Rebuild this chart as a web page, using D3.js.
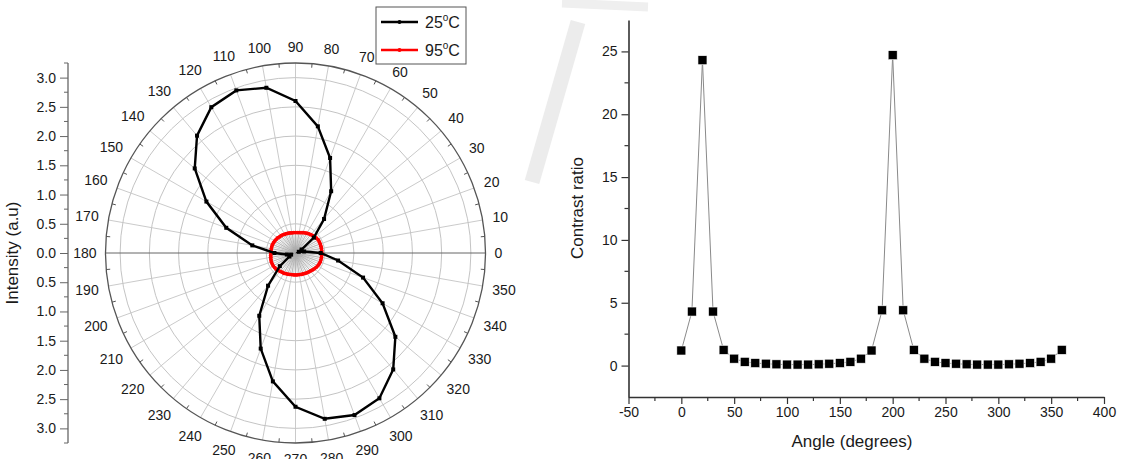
<!DOCTYPE html>
<html>
<head>
<meta charset="utf-8">
<script src="https://cdn.jsdelivr.net/npm/d3@7"></script>
<style>
  body { margin: 0; background: #fff; }
  svg text { font-family: "Liberation Sans", Arial, sans-serif; fill: #1a1a1a; }
</style>
</head>
<body>
<svg id="chart" width="1124" height="459"></svg>
<script>

// ---- polar chart data (intensity, a.u.) ----
var polar_angles_25 = [0,10,20,30,40,50,60,70,80,90,100,110,120,130,140,150,160,170,
                       180,190,200,210,220,230,240,250,260,270,280,290,300,310,320,330,340,350];
var intensity_25 = [0.43,0.15,0.06,0.12,0.41,0.76,1.22,1.73,2.20,2.60,2.87,2.96,2.88,2.62,2.25,1.76,1.26,0.75,
                    0.36,0.15,0.08,0.12,0.35,0.73,1.24,1.74,2.23,2.63,2.88,2.95,2.87,2.60,2.23,1.72,1.23,0.74];

var polar_angles_95 = [0,5,10,15,20,25,30,35,40,45,50,55,60,65,70,75,80,85,90,95,100,105,110,115,
                       120,125,130,135,140,145,150,155,160,165,170,175,180,185,190,195,200,205,210,215,
                       220,225,230,235,240,245,250,255,260,265,270,275,280,285,290,295,300,305,310,315,
                       320,325,330,335,340,345,350,355];
var intensity_95 = [0.45,0.45,0.45,0.45,0.45,0.45,0.45,0.44,0.43,0.42,0.41,0.40,0.39,0.38,0.37,0.36,0.355,0.35,
                    0.35,0.35,0.35,0.355,0.36,0.365,0.37,0.38,0.385,0.39,0.40,0.405,0.41,0.415,0.42,0.42,
                    0.42,0.42,0.42,0.425,0.43,0.435,0.44,0.44,0.44,0.435,0.43,0.42,0.41,0.40,0.40,0.39,
                    0.385,0.38,0.375,0.375,0.375,0.375,0.375,0.38,0.38,0.385,0.39,0.395,0.40,0.41,0.42,
                    0.43,0.44,0.445,0.45,0.45,0.45,0.45];

var polar_ring_values = [0.5,1.0,1.5,2.0,2.5,3.0];
var polar_label_angles = [0,10,20,30,40,50,60,70,80,90,100,110,120,130,140,150,160,170,
                          180,190,200,210,220,230,240,250,260,270,280,290,300,310,320,330,340,350];
var intensity_ticks = [-3,-2.5,-2,-1.5,-1,-0.5,0,0.5,1,1.5,2,2.5,3];

// ---- contrast ratio data ----
var cr_angles = [0,10,20,30,40,50,60,70,80,90,100,110,120,130,140,150,160,170,180,
                 190,200,210,220,230,240,250,260,270,280,290,300,310,320,330,340,350,360];
var cr_values = [1.2,4.3,24.3,4.3,1.25,0.55,0.3,0.2,0.15,0.1,0.08,0.08,0.08,0.1,0.15,0.2,0.3,0.55,1.2,
                 4.4,24.7,4.4,1.25,0.55,0.3,0.2,0.15,0.1,0.08,0.08,0.08,0.1,0.15,0.2,0.3,0.55,1.25];
var cr_xticks = [-50,0,50,100,150,200,250,300,350,400];
var cr_yticks = [0,5,10,15,20,25];

var svg = d3.select("#chart");

// faint watermark strokes seen in the source image
svg.append("path").attr("d","M578,22 L532,182").attr("stroke","#ececec").attr("stroke-width",15).attr("fill","none");
svg.append("path").attr("d","M562,3 L648,7").attr("stroke","#efefef").attr("stroke-width",9).attr("fill","none");

function draw_polar(){
	var cx = 295.5, cy = 253, R = 190;
	var rMax = 3.25;
	var r = d3.scaleLinear().domain([0, rMax]).range([0, R]);
	var g = svg.append("g").attr("transform", "translate(" + cx + "," + cy + ")");
	var rad = function(deg){ return deg * Math.PI / 180; };

	// rings
	g.selectAll(".ring").data(polar_ring_values).enter()
		.append("circle")
		.attr("r", function(d){ return r(d); })
		.attr("fill", "none").attr("stroke", "#c4c4c4").attr("stroke-width", 1);

	// spokes every 10 deg
	g.selectAll(".spoke").data(polar_label_angles).enter()
		.append("line")
		.attr("x1", 0).attr("y1", 0)
		.attr("x2", function(d){ return r(rMax) * Math.cos(rad(d)); })
		.attr("y2", function(d){ return -r(rMax) * Math.sin(rad(d)); })
		.attr("stroke", function(d){ return (d % 180 === 0) ? "#666" : "#c4c4c4"; })
		.attr("stroke-width", function(d){ return (d % 180 === 0) ? 1 : 0.9; });

	// drop lines from centre to 95C points
	var d95 = polar_angles_95.map(function(a,i){ return [a, intensity_95[i]]; });
	g.selectAll(".drop").data(d95).enter()
		.append("line")
		.attr("x1", 0).attr("y1", 0)
		.attr("x2", function(d){ return r(d[1]) * Math.cos(rad(d[0])); })
		.attr("y2", function(d){ return -r(d[1]) * Math.sin(rad(d[0])); })
		.attr("stroke", "#aaa").attr("stroke-width", 0.6);

	// outer circle + minor ticks every 5 deg
	g.append("circle").attr("r", R).attr("fill", "none").attr("stroke", "#555").attr("stroke-width", 1.3);
	var minor = polar_angles_95.filter(function(a){ return a % 10 !== 0; });
	g.selectAll(".mtick").data(minor).enter()
		.append("line")
		.attr("x1", function(d){ return R * Math.cos(rad(d)); })
		.attr("y1", function(d){ return -R * Math.sin(rad(d)); })
		.attr("x2", function(d){ return (R - 4) * Math.cos(rad(d)); })
		.attr("y2", function(d){ return -(R - 4) * Math.sin(rad(d)); })
		.attr("stroke", "#555").attr("stroke-width", 1);

	// angle labels
	var labelDist = function(d){
		var hw = String(d).length * 3.9;
		return R + 9 + hw * Math.abs(Math.cos(rad(d))) + 7 * Math.abs(Math.sin(rad(d)));
	};
	g.selectAll(".alab").data(polar_label_angles).enter()
		.append("text")
		.attr("x", function(d){ return labelDist(d) * Math.cos(rad(d)); })
		.attr("y", function(d){ return -labelDist(d) * Math.sin(rad(d)); })
		.attr("text-anchor", "middle").attr("dy", "0.35em")
		.attr("font-size", 14)
		.text(function(d){ return d; });

	// curves
	var d25 = polar_angles_25.map(function(a,i){ return [a, intensity_25[i]]; });
	var lr = d3.lineRadial()
		.angle(function(d){ return rad(90 - d[0]); })
		.radius(function(d){ return r(d[1]); })
		.curve(d3.curveLinearClosed);

	g.append("path").datum(d95).attr("d", lr)
		.attr("fill", "none").attr("stroke", "#ff0000").attr("stroke-width", 2.8);
	g.selectAll(".p95").data(d95).enter()
		.append("circle")
		.attr("cx", function(d){ return r(d[1]) * Math.cos(rad(d[0])); })
		.attr("cy", function(d){ return -r(d[1]) * Math.sin(rad(d[0])); })
		.attr("r", 1.9).attr("fill", "#ff0000");

	g.append("path").datum(d25).attr("d", lr)
		.attr("fill", "none").attr("stroke", "#000").attr("stroke-width", 2.4);
	g.selectAll(".p25").data(d25).enter()
		.append("rect")
		.attr("x", function(d){ return r(d[1]) * Math.cos(rad(d[0])) - 2; })
		.attr("y", function(d){ return -r(d[1]) * Math.sin(rad(d[0])) - 2; })
		.attr("width", 4).attr("height", 4).attr("fill", "#000");

	// left intensity axis
	var yI = d3.scaleLinear().domain([-rMax, rMax]).range([cy + R, cy - R]);
	var ax = svg.append("g").attr("transform", "translate(68,0)");
	ax.call(d3.axisLeft(yI).tickValues(intensity_ticks).tickSize(8).tickPadding(4)
		.tickFormat(function(d){ return Math.abs(d).toFixed(1); }));
	ax.call(function(s){
		s.select(".domain").attr("d", "M0," + (cy - R) + "V" + (cy + R)).attr("stroke", "#666").attr("stroke-width", 1.3);
		s.selectAll(".tick line").attr("stroke", "#666");
		s.selectAll(".tick text").attr("font-size", 14).attr("fill", "#1a1a1a")
			.attr("font-family", "Liberation Sans, Arial, sans-serif");
	});
	var minorI = [-3.25,-2.75,-2.25,-1.75,-1.25,-0.75,-0.25,0.25,0.75,1.25,1.75,2.25,2.75,3.25];
	ax.selectAll(".mi").data(minorI).enter()
		.append("line").attr("x1", -4).attr("x2", 0)
		.attr("y1", function(d){ return yI(d); }).attr("y2", function(d){ return yI(d); })
		.attr("stroke", "#666");

	svg.append("text")
		.attr("transform", "translate(18," + cy + ") rotate(-90)")
		.attr("text-anchor", "middle").attr("font-size", 17)
		.text("Intensity (a.u)");

	// legend
	var lg = svg.append("g");
	lg.append("rect").attr("x", 376).attr("y", 7).attr("width", 90).attr("height", 57)
		.attr("fill", "#fff").attr("stroke", "#555").attr("stroke-width", 1);
	var leg = [["25", "#000"], ["95", "#ff0000"]];
	leg.forEach(function(l, i){
		var yy = 22 + i * 28;
		lg.append("line").attr("x1", 381).attr("x2", 418).attr("y1", yy).attr("y2", yy)
			.attr("stroke", l[1]).attr("stroke-width", 2.6);
		lg.append("circle").attr("cx", 399.5).attr("cy", yy).attr("r", 2).attr("fill", l[1]);
		var t = lg.append("text").attr("x", 425).attr("y", yy + 6).attr("font-size", 16);
		t.append("tspan").text(l[0]);
		t.append("tspan").attr("font-size", 10).attr("dy", -7).text("o");
		t.append("tspan").attr("dy", 7).text("C");
	});
}

function draw_contrast(){
	var x = d3.scaleLinear().domain([-50, 400]).range([628.5, 1104]);
	var y = d3.scaleLinear().domain([-2.5, 27.5]).range([397, 20]);

	var xa = svg.append("g").attr("transform", "translate(0,397)")
		.call(d3.axisBottom(x).tickValues(cr_xticks).tickSize(7).tickPadding(3).tickSizeOuter(0)
			.tickFormat(function(d){ return String(d); }));
	var ya = svg.append("g").attr("transform", "translate(628.5,0)")
		.call(d3.axisLeft(y).tickValues(cr_yticks).tickSize(7).tickPadding(4).tickSizeOuter(0));
	[xa, ya].forEach(function(a){
		a.select(".domain").attr("stroke", "#333").attr("stroke-width", 1.6);
		a.selectAll(".tick line").attr("stroke", "#333").attr("stroke-width", 1.2);
		a.selectAll(".tick text").attr("font-size", 14).attr("fill", "#1a1a1a")
			.attr("font-family", "Liberation Sans, Arial, sans-serif");
	});
	var xminor = [-25,25,75,125,175,225,275,325,375];
	svg.selectAll(".xm").data(xminor).enter().append("line")
		.attr("x1", function(d){ return x(d); }).attr("x2", function(d){ return x(d); })
		.attr("y1", 397).attr("y2", 401).attr("stroke", "#333").attr("stroke-width", 1.2);
	var yminor = [2.5,7.5,12.5,17.5,22.5];
	svg.selectAll(".ym").data(yminor).enter().append("line")
		.attr("y1", function(d){ return y(d); }).attr("y2", function(d){ return y(d); })
		.attr("x1", 628.5).attr("x2", 624.5).attr("stroke", "#333").attr("stroke-width", 1.2);

	var data = cr_angles.map(function(a,i){ return [a, cr_values[i]]; });
	svg.append("path").datum(data)
		.attr("fill", "none").attr("stroke", "#8a8a8a").attr("stroke-width", 1)
		.attr("d", d3.line().x(function(d){ return x(d[0]); }).y(function(d){ return y(d[1]); }));
	svg.selectAll(".sq").data(data).enter().append("rect")
		.attr("x", function(d){ return x(d[0]) - 4.5; })
		.attr("y", function(d){ return y(d[1]) - 4.5; })
		.attr("width", 9).attr("height", 9)
		.attr("fill", "#000").attr("stroke", "#fff").attr("stroke-width", 0.6);

	svg.append("text").attr("x", 852).attr("y", 447).attr("text-anchor", "middle")
		.attr("font-size", 17).text("Angle (degrees)");
	svg.append("text").attr("transform", "translate(583,208) rotate(-90)")
		.attr("text-anchor", "middle").attr("font-size", 17).text("Contrast ratio");
}

draw_polar();
draw_contrast();
</script>
</body>
</html>
